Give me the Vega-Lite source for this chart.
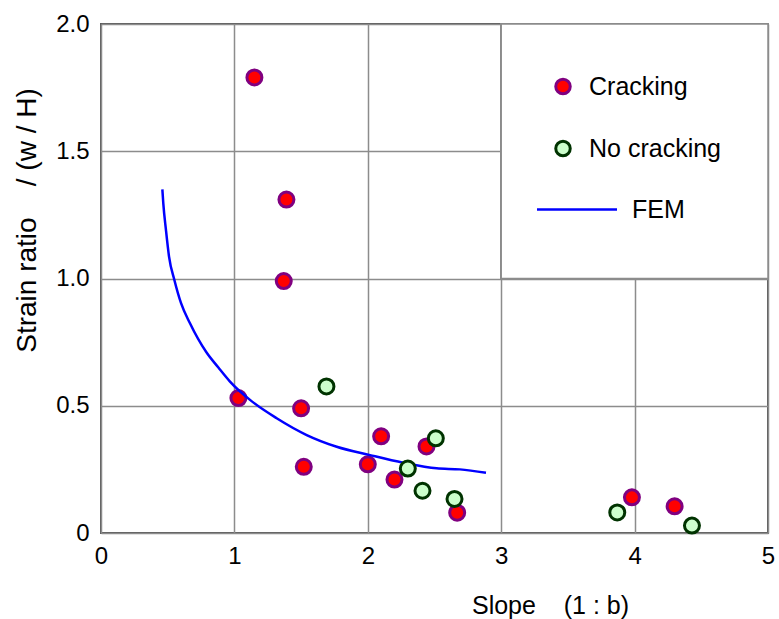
{
  "$schema": "https://vega.github.io/schema/vega-lite/v6.json",
  "width": 667,
  "height": 509,
  "autosize": {"type": "none"},
  "padding": {"left": 101, "top": 24, "right": 11, "bottom": 86},
  "background": "white",
  "config": {
    "font": "Liberation Sans",
    "view": {"stroke": "#5a5a5a", "strokeWidth": 2},
    "axis": {"grid": true, "gridColor": "#8c8c8c", "gridWidth": 1.5, "domain": false, "ticks": false, "labelFlush": false, "labelFont": "Liberation Sans", "labelFontSize": 24, "labelColor": "#000000", "titleFont": "Liberation Sans", "titleFontSize": 25, "titleFontWeight": "normal", "titleColor": "#000000"},
    "legend": {
      "title": null, "orient": "none", "legendX": 453, "legendY": 50,
      "labelFont": "Liberation Sans", "labelFontSize": 25, "labelColor": "#000000",
      "symbolSize": 210, "symbolStrokeWidth": 3, "symbolOpacity": 1, "labelOffset": 10, "rowPadding": 35
    }
  },
  "datasets": {
    "pts": [
      {"x": 1.15, "y": 1.79, "series": "Cracking"},
      {"x": 1.39, "y": 1.31, "series": "Cracking"},
      {"x": 1.37, "y": 0.99, "series": "Cracking"},
      {"x": 1.03, "y": 0.53, "series": "Cracking"},
      {"x": 1.5, "y": 0.49, "series": "Cracking"},
      {"x": 1.52, "y": 0.26, "series": "Cracking"},
      {"x": 2.0, "y": 0.27, "series": "Cracking"},
      {"x": 2.1, "y": 0.38, "series": "Cracking"},
      {"x": 2.2, "y": 0.21, "series": "Cracking"},
      {"x": 2.44, "y": 0.34, "series": "Cracking"},
      {"x": 2.67, "y": 0.08, "series": "Cracking"},
      {"x": 3.98, "y": 0.14, "series": "Cracking"},
      {"x": 4.3, "y": 0.105, "series": "Cracking"},
      {"x": 1.69, "y": 0.576, "series": "No cracking"},
      {"x": 2.51, "y": 0.372, "series": "No cracking"},
      {"x": 2.3, "y": 0.253, "series": "No cracking"},
      {"x": 2.41, "y": 0.166, "series": "No cracking"},
      {"x": 2.65, "y": 0.134, "series": "No cracking"},
      {"x": 3.87, "y": 0.081, "series": "No cracking"},
      {"x": 4.43, "y": 0.029, "series": "No cracking"},
      {"x": 0.46, "y": 1.35, "series": "FEM"},
      {"x": 0.467, "y": 1.295, "series": "FEM"},
      {"x": 0.487, "y": 1.19, "series": "FEM"},
      {"x": 0.51, "y": 1.086, "series": "FEM"},
      {"x": 0.55, "y": 0.994, "series": "FEM"},
      {"x": 0.6, "y": 0.903, "series": "FEM"},
      {"x": 0.667, "y": 0.824, "series": "FEM"},
      {"x": 0.79, "y": 0.71, "series": "FEM"},
      {"x": 0.88, "y": 0.65, "series": "FEM"},
      {"x": 0.967, "y": 0.595, "series": "FEM"},
      {"x": 1.117, "y": 0.523, "series": "FEM"},
      {"x": 1.317, "y": 0.451, "series": "FEM"},
      {"x": 1.542, "y": 0.385, "series": "FEM"},
      {"x": 1.767, "y": 0.339, "series": "FEM"},
      {"x": 2.017, "y": 0.306, "series": "FEM"},
      {"x": 2.266, "y": 0.276, "series": "FEM"},
      {"x": 2.516, "y": 0.254, "series": "FEM"},
      {"x": 2.69, "y": 0.25, "series": "FEM"},
      {"x": 2.886, "y": 0.237, "series": "FEM"}
    ]
  },
  "data": {"name": "pts"},
  "encoding": {
    "x": {
      "field": "x", "type": "quantitative",
      "scale": {"domain": [0, 5], "nice": false, "zero": false},
      "axis": {"values": [0, 1, 2, 3, 4, 5], "format": "d", "labelPadding": 11, "title": "Slope\u00a0\u00a0\u00a0\u00a0(1 : b)", "titleX": 449, "titleY": 80, "titleBaseline": "alphabetic", "titleAnchor": null}
    },
    "y": {
      "field": "y", "type": "quantitative",
      "scale": {"domain": [0, 2], "nice": false, "zero": false},
      "axis": {"values": [0, 0.5, 1, 1.5, 2], "labelExpr": "datum.value === 0 ? '0' : format(datum.value, '.1f')", "labelPadding": 12, "title": "Strain ratio\u00a0\u00a0\u00a0\u00a0/\u00a0(w / H)", "titleFontSize": 28, "titleAngle": 270, "titleX": -74, "titleY": 196, "titleAlign": "center", "titleBaseline": "middle", "titleAnchor": null}
    }
  },
  "layer": [
    {
      "mark": {"type": "rect", "fill": "white", "stroke": "#8c8c8c", "strokeWidth": 1.5},
      "encoding": {
        "x": {"datum": 3, "type": "quantitative"},
        "x2": {"datum": 5},
        "y": {"datum": 1, "type": "quantitative"},
        "y2": {"datum": 2}
      }
    },
    {
      "transform": [{"filter": "datum.series === 'Cracking'"}],
      "mark": {"type": "point", "filled": true, "size": 225, "strokeWidth": 3, "opacity": 1},
      "encoding": {
        "fill": {
          "field": "series", "type": "nominal",
          "scale": {"domain": ["Cracking", "No cracking", "FEM"], "range": ["#ff0000", "#ccffcc", "transparent"]},
          "legend": {
            "encode": {
              "symbols": {"update": {
                "shape": {"signal": "datum.value === 'FEM' ? 'stroke' : 'circle'"},
                "size": {"signal": "datum.value === 'FEM' ? 6400 : 210"},
                "x": {"signal": "datum.value === 'FEM' ? 23 : 9"},
                "strokeWidth": {"signal": "datum.value === 'FEM' ? 2.5 : 3"}
              }},
              "labels": {"update": {"dx": {"signal": "datum.value === 'FEM' ? 43 : 0"}}}
            }
          }
        },
        "stroke": {
          "field": "series", "type": "nominal",
          "scale": {"domain": ["Cracking", "No cracking", "FEM"], "range": ["#800080", "#003300", "#0000ff"]},
          "legend": {
            "encode": {
              "symbols": {"update": {
                "shape": {"signal": "datum.value === 'FEM' ? 'stroke' : 'circle'"},
                "size": {"signal": "datum.value === 'FEM' ? 6400 : 210"},
                "x": {"signal": "datum.value === 'FEM' ? 23 : 9"},
                "strokeWidth": {"signal": "datum.value === 'FEM' ? 2.5 : 3"}
              }},
              "labels": {"update": {"dx": {"signal": "datum.value === 'FEM' ? 43 : 0"}}}
            }
          }
        }
      }
    },
    {
      "transform": [{"filter": "datum.series === 'FEM'"}],
      "mark": {"type": "line", "strokeWidth": 2.5, "interpolate": "monotone"},
      "encoding": {
        "stroke": {"field": "series", "type": "nominal"}
      }
    },
    {
      "transform": [{"filter": "datum.series === 'No cracking'"}],
      "mark": {"type": "point", "filled": true, "size": 225, "strokeWidth": 3, "opacity": 1},
      "encoding": {
        "fill": {"field": "series", "type": "nominal"},
        "stroke": {"field": "series", "type": "nominal"}
      }
    }
  ]
}
